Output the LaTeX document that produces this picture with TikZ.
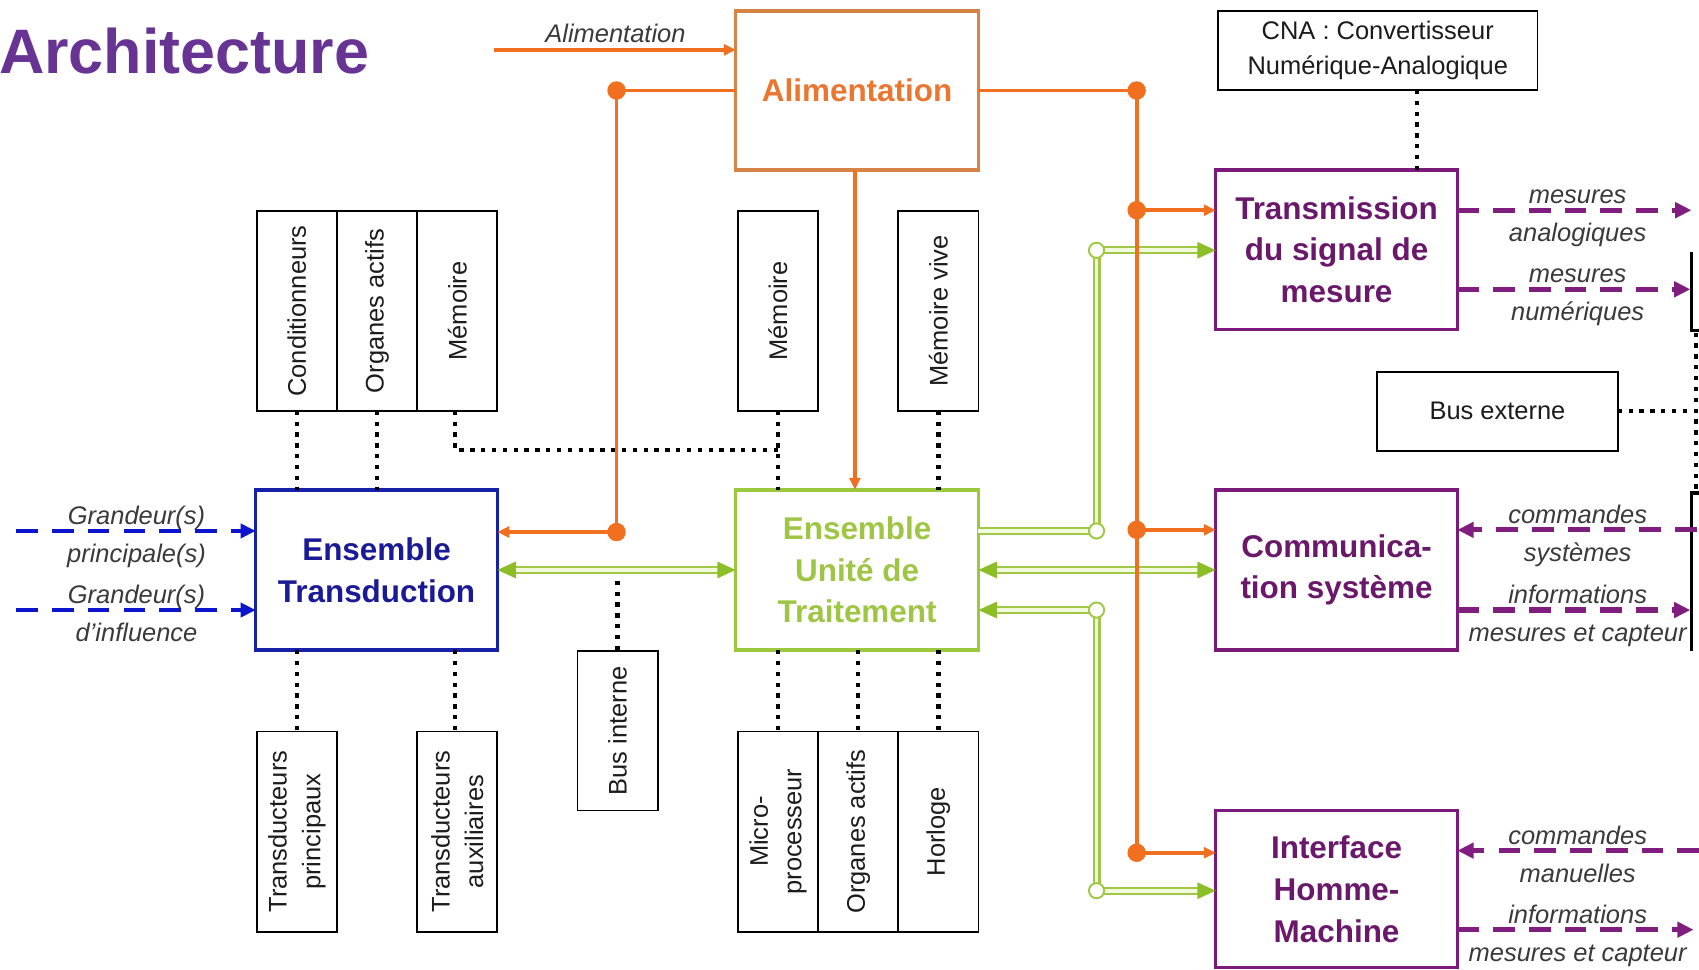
\documentclass[tikz,border=0pt]{standalone}
\usepackage{fontspec}
\setmainfont{Liberation Sans}
\usetikzlibrary{arrows.meta}
\definecolor{ttl}{RGB}{104,52,148}
\definecolor{orn}{RGB}{240,112,32}
\definecolor{ornb}{RGB}{214,132,70}
\definecolor{ornt}{RGB}{234,118,48}
\definecolor{blu}{RGB}{22,32,168}
\definecolor{blut}{RGB}{26,26,150}
\definecolor{blud}{RGB}{12,20,205}
\definecolor{grn}{RGB}{156,200,62}
\definecolor{grnt}{RGB}{158,198,68}
\definecolor{grl}{RGB}{160,200,70}
\definecolor{grin}{RGB}{244,250,222}
\definecolor{gra}{RGB}{140,190,40}
\definecolor{pur}{RGB}{124,26,124}
\definecolor{purt}{RGB}{106,24,106}
\definecolor{purd}{RGB}{128,30,128}
\definecolor{labc}{RGB}{58,58,58}
\definecolor{txt}{RGB}{28,28,28}
\newcommand\fnorm{\fontsize{23.5}{31}\selectfont}
\newcommand\fbold{\fontsize{29}{38.5}\selectfont\bfseries}
\newcommand\flab{\fontsize{23.5}{28}\selectfont\itshape}
\newcommand\fttl{\fontsize{58}{60}\selectfont\bfseries}
\begin{document}
\begin{tikzpicture}[x=1pt,y=-1pt,
  box/.style={draw, inner sep=0pt, outer sep=0pt, fill=white},
  blk/.style={box, draw=black, line width=1.6pt},
  vtxt/.style={rotate=90, align=center, font=\fnorm, text=txt, inner sep=0pt},
  htxt/.style={align=center, font=\fnorm, text=txt, inner sep=0pt},
  bigbox/.style={box, line width=3.2pt, align=center, font=\fbold, minimum width=223pt},
  lab/.style={anchor=base, font=\flab, text=labc, inner sep=0pt},
  dots/.style={draw=black, line width=4pt, dash pattern=on 4pt off 6pt},
  oline/.style={draw=orn, line width=3.5pt},
  oarr/.style={oline, -{Triangle[length=11pt,width=10pt]}},
  gline/.style={draw=grl, line width=2pt, double=grin, double distance=3.5pt},
  garr/.style={gline, -{Triangle[length=17pt,width=15pt,color=gra]}},
  gbarr/.style={gline, {Triangle[length=17pt,width=15pt,color=gra]}-{Triangle[length=17pt,width=15pt,color=gra]}},
  pdash/.style={draw=purd, line width=4.8pt, dash pattern=on 20pt off 13pt},
  parr/.style={pdash, -{Triangle[length=15pt,width=14pt]}},
  bdash/.style={draw=blud, line width=4.4pt, dash pattern=on 20pt off 13pt, -{Triangle[length=14pt,width=13pt]}},
  ocirc/.style={draw=grl, fill=white, line width=1.8pt}
]
\fill[white] (0,0) rectangle (1568,895);
\useasboundingbox (0,0) rectangle (1568,895);

% Title
\node[anchor=base west, font=\fttl, text=ttl, inner sep=0pt] (title) at (-1,68) {Architecture};

% Main boxes
\node[bigbox, draw=ornb, text=ornt, minimum width=224pt, minimum height=147pt] (alim) at (791,83.5) {Alimentation};
\node[bigbox, draw=blu, text=blut, minimum height=148pt] (ET) at (347.5,526) {Ensemble\\Transduction};
\node[bigbox, draw=grn, text=grnt, minimum width=224pt, minimum height=148pt] (EUT) at (791,526) {Ensemble\\Unité de\\Traitement};
\node[bigbox, draw=pur, text=purt, minimum height=147pt] (trans) at (1233.5,230.5) {Transmission\\du signal de\\mesure};
\node[bigbox, draw=pur, text=purt, minimum height=148pt] (comm) at (1233.5,526) {Communica-\\tion système};
\node[bigbox, draw=pur, text=purt, minimum height=145pt] (ihm) at (1233.5,820.5) {Interface\\Homme-\\Machine};

% CNA and Bus externe
\node[blk, minimum width=295pt, minimum height=73pt] (cna) at (1271.5,46.5) {};
\node[htxt, font=\fontsize{23.5}{32}\selectfont] (cnat) at (cna) {CNA : Convertisseur\\Numérique-Analogique};
\node[blk, minimum width=222pt, minimum height=73pt] (busext) at (1382,379.5) {};
\node[htxt] (busextt) at (busext) {Bus externe};

% ET top cells
\node[blk, minimum width=74pt, minimum height=184pt] (cond) at (274,287) {};
\node[blk, minimum width=74pt, minimum height=184pt] (orga) at (348,287) {};
\node[blk, minimum width=74pt, minimum height=184pt] (mema) at (422,287) {};
\node[vtxt] (condt) at (cond) {Conditionneurs};
\node[vtxt] (orgat) at (orga) {Organes actifs};
\node[vtxt] (memat) at (mema) {Mémoire};

% EUT top cells
\node[blk, minimum width=74pt, minimum height=184pt] (memb) at (718,287) {};
\node[blk, minimum width=74pt, minimum height=184pt] (vive) at (866,287) {};
\node[vtxt] (membt) at (memb) {Mémoire};
\node[vtxt] (vivet) at (vive) {Mémoire vive};

% ET bottom cells
\node[blk, minimum width=74pt, minimum height=185pt] (tp) at (274,767.5) {};
\node[blk, minimum width=74pt, minimum height=185pt] (ta) at (422,767.5) {};
\node[vtxt] (tpt) at (tp) {Transducteurs\\principaux};
\node[vtxt] (tat) at (ta) {Transducteurs\\auxiliaires};

% Bus interne
\node[blk, minimum width=74pt, minimum height=147pt] (busint) at (570,674.5) {};
\node[vtxt] (busintt) at (busint) {Bus interne};

% EUT bottom cells
\node[blk, minimum width=74pt, minimum height=185pt] (micro) at (718,767.5) {};
\node[blk, minimum width=74pt, minimum height=185pt] (orgb) at (792,767.5) {};
\node[blk, minimum width=74pt, minimum height=185pt] (horl) at (866,767.5) {};
\node[vtxt] (microt) at (micro) {Micro-\\processeur};
\node[vtxt] (orgbt) at (orgb) {Organes actifs};
\node[vtxt] (horlt) at (horl) {Horloge};

% Dotted connectors
\draw[dots] (cond.south) -- (cond.south |- ET.north);
\draw[dots] (orga.south) -- (orga.south |- ET.north);
\coordinate (dm) at (420,415);
\draw[dots] ([xshift=-2pt]mema.south) -- (dm) -- (dm -| memb.south);
\draw[dots] (memb.south) -- (memb.south |- EUT.north);
\draw[dots] (vive.south) -- (vive.south |- EUT.north);
\draw[dots] (tp.north |- ET.south) -- (tp.north);
\draw[dots] ([xshift=-2pt]ta.north |- ET.south) -- ([xshift=-2pt]ta.north);
\draw[dots] (micro.north |- EUT.south) -- (micro.north);
\draw[dots] (orgb.north |- EUT.south) -- (orgb.north);
\draw[dots] (horl.north |- EUT.south) -- (horl.north);
\coordinate (bi) at (570,526);
\draw[dots] (bi) -- (busint.north);
\coordinate (cnab) at (1308,83);
\draw[dots] (cnab) -- (cnab |- trans.north);
\coordinate (rbus) at (1565.5,379.5);
\draw[dots] (busext.east) -- (rbus);

% Right edge (cut-off boxes)
\coordinate (r1a) at (1561,233);
\coordinate (r1b) at (1561,305);
\coordinate (r1c) at (1568,305);
\coordinate (r2a) at (1568,455);
\coordinate (r2b) at (1561,455);
\coordinate (r2c) at (1561,601);
\draw[line width=3pt] (r1a) -- (r1b) -- (r1c);
\draw[line width=3pt] (r2a) -- (r2b) -- (r2c);
\draw[dots] (1565.5,307) -- (1565.5,453);

% Green double lines
\coordinate (g1) at (1012,490);
\coordinate (g2) at (1012,231);
\coordinate (g3) at (1012,563);
\coordinate (g4) at (1012,822);
\draw[gbarr] (ET.east) -- (EUT.west);
\draw[garr] (g1 -| EUT.east) -- (g1) -- (g2) -- (g2 -| trans.west);
\draw[gbarr] (EUT.east) -- (comm.west);
\draw[gbarr] (g3 -| EUT.east) -- (g3) -- (g4) -- (g4 -| ihm.west);
\foreach \g in {g1,g2,g3,g4} \draw[ocirc] (\g) circle (7pt);

% Orange power lines
\coordinate (ain) at (456,46);
\coordinate (j1) at (569,83.5);
\coordinate (j2) at (569,491);
\coordinate (j3) at (1049,83.5);
\coordinate (j4) at (1049,194);
\coordinate (j5) at (1049,489);
\coordinate (j6) at (1049,787);
\draw[oarr] (ain) -- (ain -| alim.west);
\draw[oarr] (alim.west) -- (j1) -- (j2) -- (j2 -| ET.east);
\draw[oline] (alim.east) -- (j3) -- (j6);
\draw[oarr] (j4) -- (j4 -| trans.west);
\draw[oarr] (j5) -- (j5 -| comm.west);
\draw[oarr] (j6) -- (j6 -| ihm.west);
\draw[oarr] ([xshift=-2pt]alim.south) -- ([xshift=-2pt]EUT.north);
\foreach \j in {j1,j2,j3,j4,j5,j6} \fill[orn] (\j) circle (8.5pt);

% Blue input arrows
\coordinate (b1) at (15,490);
\coordinate (b2) at (15,563);
\draw[bdash] (b1) -- (b1 -| ET.west);
\draw[bdash] (b2) -- (b2 -| ET.west);

% Purple dashed arrows
\coordinate (p1) at (1561,194);
\coordinate (p2) at (1560,267);
\coordinate (p3) at (1566,489);
\coordinate (p4) at (1560,563);
\coordinate (p5) at (1568,785);
\coordinate (p6) at (1563,858);
\draw[parr] (p1 -| trans.east) -- (p1);
\draw[parr] (p2 -| trans.east) -- (p2);
\draw[parr] (p3) -- (p3 -| comm.east);
\draw[parr] (p4 -| comm.east) -- (p4);
\draw[parr] (p5) -- (p5 -| ihm.east);
\draw[parr] (p6 -| ihm.east) -- (p6);

% Labels
\node[lab] (la0) at (568,39) {Alimentation};
\node[lab] (la1) at (126,484) {Grandeur(s)};
\node[lab] (la2) at (126,519) {principale(s)};
\node[lab] (la3) at (126,557) {Grandeur(s)};
\node[lab] (la4) at (126,592) {d\symbol{39}influence};
\node[lab] (lb1) at (1456,188) {mesures};
\node[lab] (lb2) at (1456,223) {analogiques};
\node[lab] (lb3) at (1456,261) {mesures};
\node[lab] (lb4) at (1456,296) {numériques};
\node[lab] (lc1) at (1456,483) {commandes};
\node[lab] (lc2) at (1456,518) {systèmes};
\node[lab] (lc3) at (1456,557) {informations};
\node[lab] (lc4) at (1456,592) {mesures et capteur};
\node[lab] (ld1) at (1456,779) {commandes};
\node[lab] (ld2) at (1456,814) {manuelles};
\node[lab] (ld3) at (1456,852) {informations};
\node[lab] (ld4) at (1456,887) {mesures et capteur};
\end{tikzpicture}
\end{document}
